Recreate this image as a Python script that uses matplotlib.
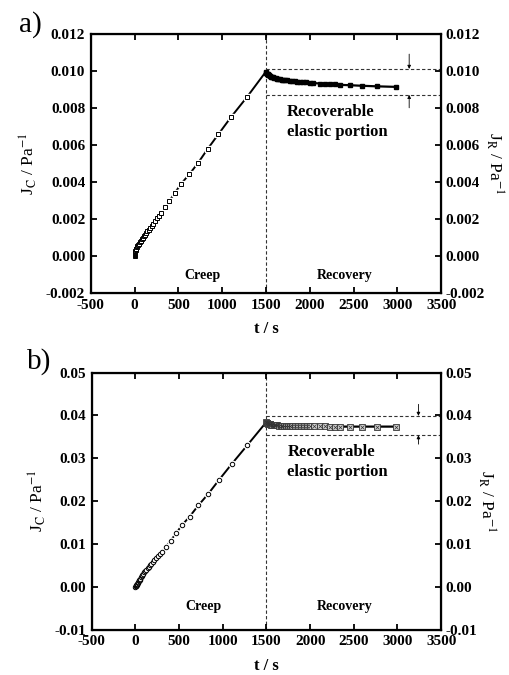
import numpy as np
import matplotlib
matplotlib.use('Agg')
import matplotlib.pyplot as plt
from matplotlib.ticker import FormatStrFormatter, MultipleLocator

plt.rcParams['font.family'] = ['Liberation Serif', 'DejaVu Serif']
plt.rcParams['mathtext.fontset'] = 'stix'
plt.rcParams['axes.unicode_minus'] = False

# panel a) creep (open squares) and recovery (filled squares)
T_CREEP_A = [0, 1, 2, 3, 4, 5, 6, 8, 10, 12, 15, 19, 24, 30, 38, 49, 60, 72, 84, 95, 106,
             117, 130, 144, 160, 178, 196, 216, 236, 258, 280, 303, 348, 398, 462, 534,
             625, 723, 833, 955, 1106, 1280]
J_CREEP_A = [0.00000, 0.00003, 0.00006, 0.00009, 0.00012, 0.00015, 0.00018, 0.00022,
             0.00026, 0.00030, 0.00035, 0.00040, 0.00046, 0.00052, 0.00059, 0.00067,
             0.00074, 0.00081, 0.00089, 0.00097, 0.00105, 0.00114, 0.00123, 0.00132,
             0.00142, 0.00153, 0.00164, 0.00175, 0.00189, 0.00204, 0.00217, 0.00231,
             0.00263, 0.00297, 0.00342, 0.00391, 0.00441, 0.00501, 0.00577, 0.00656,
             0.00753, 0.00856]
T_END = 1500
J_END_A = 0.00996

T_REC = [1500, 1505, 1510, 1518, 1526, 1535, 1545, 1556, 1568, 1581, 1595, 1610, 1626,
         1643, 1661, 1680, 1700, 1722, 1745, 1770, 1797, 1826, 1857, 1890, 1925, 1962,
         2003, 2041, 2117, 2174, 2231, 2289, 2346, 2460, 2594, 2765, 2986]
J_REC_A = [0.00996, 0.00990, 0.00985, 0.00981, 0.00978, 0.00975, 0.00972, 0.00969,
           0.00967, 0.00964, 0.00962, 0.00960, 0.00958, 0.00956, 0.00954, 0.00952,
           0.00951, 0.00949, 0.00948, 0.00946, 0.00945, 0.00943, 0.00942, 0.00940,
           0.00939, 0.00937, 0.00936, 0.00934, 0.00931, 0.00929, 0.00927, 0.00926,
           0.00924, 0.00922, 0.00919, 0.00916, 0.00913]
BAND_A = (0.0101, 0.0087)
ARROW_A = (3135, 0.0109, 0.0080)

# panel b) creep (open circles) and recovery (crossed squares)
T_CREEP_B = [0, 2, 5, 7, 10, 13, 17, 21, 25, 30, 35, 41, 47, 54, 62, 71, 80, 90, 100,
             112, 125, 138, 152, 167, 183, 200, 217, 238, 259, 280, 300, 346, 403, 464,
             532, 620, 719, 833, 958, 1103, 1278]
J_CREEP_B = [0.0000, 0.0001, 0.0002, 0.0003, 0.0004, 0.0005, 0.0006, 0.0007, 0.0009,
             0.0011, 0.0013, 0.0015, 0.0017, 0.0019, 0.0022, 0.0025, 0.0028, 0.0031,
             0.0034, 0.0037, 0.0040, 0.0043, 0.0047, 0.0050, 0.0054, 0.0058, 0.0062,
             0.0067, 0.0072, 0.0077, 0.0082, 0.0093, 0.0108, 0.0125, 0.0144, 0.0164,
             0.0190, 0.0217, 0.0250, 0.0287, 0.0330]
J_END_B = 0.0385
J_REC_B = [0.0385, 0.0383, 0.0382, 0.0381, 0.0380, 0.0379, 0.0379, 0.0378, 0.0378,
           0.0377, 0.0377, 0.0377, 0.0377, 0.0376, 0.0376, 0.0376, 0.0376, 0.0376,
           0.0376, 0.0376, 0.0376, 0.0375, 0.0375, 0.0375, 0.0375, 0.0375, 0.0375,
           0.0375, 0.0375, 0.0375, 0.0374, 0.0374, 0.0374, 0.0374, 0.0374, 0.0374,
           0.0374]
BAND_B = (0.0399, 0.0354)
ARROW_B = (3240, 0.0426, 0.0333)

XTICKS = [-500, 0, 500, 1000, 1500, 2000, 2500, 3000, 3500]


def style_axes(ax, ylim, ystep, fmt):
    ax.set_xlim(-500, 3500)
    ax.set_ylim(*ylim)
    ax.set_xticks(XTICKS)
    ax.yaxis.set_major_locator(MultipleLocator(ystep))
    ax.yaxis.set_major_formatter(FormatStrFormatter(fmt))
    ax.tick_params(direction='in', length=4, width=1.3, top=True, right=False,
                   labelsize=11, pad=4)
    for lab in ax.get_xticklabels() + ax.get_yticklabels():
        lab.set_fontweight('bold')
    for sp in ax.spines.values():
        sp.set_linewidth(1.6)
    ax.set_xlabel('t / s', fontsize=12, fontweight='bold', labelpad=7)
    ax.set_ylabel(r'J$_{\mathrm{C}}$ / Pa$^{\mathrm{-1}}$', fontsize=12.5, labelpad=5)

    twin = ax.twinx()
    twin.set_ylim(*ylim)
    twin.yaxis.set_major_locator(MultipleLocator(ystep))
    twin.yaxis.set_major_formatter(FormatStrFormatter(fmt))
    twin.tick_params(direction='in', length=4, width=1.3, labelsize=11, pad=3)
    for lab in twin.get_yticklabels():
        lab.set_fontweight('bold')
    twin.set_ylabel(r'J$_{\mathrm{R}}$ / Pa$^{\mathrm{-1}}$', fontsize=12.5,
                    rotation=-90, labelpad=15)
    return twin


def draw_panel(ax, t_c, j_c, j_end, j_r, band, arrow, creep_marker, rec_kind,
               ylim, ystep, fmt, txt_y):
    style_axes(ax, ylim, ystep, fmt)
    ms = 3.2
    # creep line continued up to the start of recovery
    ax.plot(list(t_c) + [T_END], list(j_c) + [j_end], color='black', lw=1.4, zorder=2)
    ax.plot(t_c, j_c, ls='none', marker=creep_marker, ms=ms + 1.6, mfc='white',
            mec='white', zorder=3)
    ax.plot(t_c, j_c, ls='none', marker=creep_marker, ms=ms, mfc='white',
            mec='black', mew=0.7, zorder=4)

    # recovery
    ax.plot(T_REC, j_r, color='black', lw=1.6, zorder=2)
    if rec_kind == 'filled':
        ax.plot(T_REC, j_r, ls='none', marker='s', ms=ms, mfc='black', mec='black',
                zorder=4)
    else:
        ax.plot(T_REC, j_r, ls='none', marker='s', ms=ms + 0.6, mfc='#d0d0d0',
                mec='#333333', mew=0.6, zorder=4)
        ax.plot(T_REC, j_r, ls='none', marker='x', ms=ms - 0.6, mec='#333333',
                mew=0.5, zorder=5)

    dash = dict(color='#333333', lw=0.8, ls=(0, (3, 2)), zorder=1)
    ax.axvline(T_END, **dash)
    ax.plot([T_END, 3500], [band[0], band[0]], **dash)
    ax.plot([T_END, 3500], [band[1], band[1]], **dash)

    ax_x, top_from, bot_from = arrow
    arr = dict(arrowstyle='-|>', lw=0.6, color='black', mutation_scale=5,
               shrinkA=0, shrinkB=0)
    ax.annotate('', xy=(ax_x, band[0]), xytext=(ax_x, top_from), arrowprops=arr)
    ax.annotate('', xy=(ax_x, band[1]), xytext=(ax_x, bot_from), arrowprops=arr)

    ax.text(780, txt_y, 'Creep', ha='center', va='center', fontsize=10,
            fontweight='bold')
    ax.text(2400, txt_y, 'Recovery', ha='center', va='center', fontsize=10,
            fontweight='bold')
    ax.text(1740, band[1] - (ylim[1] - ylim[0]) * 0.035,
            'Recoverable\nelastic portion', ha='left', va='top', fontsize=12,
            fontweight='bold', linespacing=1.3)


fig = plt.figure(figsize=(5.1, 6.75), dpi=100)
ax_a = fig.add_axes([0.178, 0.566, 0.687, 0.384])
ax_b = fig.add_axes([0.180, 0.067, 0.685, 0.381])

draw_panel(ax_a, T_CREEP_A, J_CREEP_A, J_END_A, J_REC_A, BAND_A, ARROW_A, 's',
           'filled', (-0.002, 0.012), 0.002, '%.3f', -0.00105)
draw_panel(ax_b, T_CREEP_B, J_CREEP_B, J_END_B, J_REC_B, BAND_B, ARROW_B, 'o',
           'crossed', (-0.01, 0.05), 0.01, '%.2f', -0.0045)

fig.text(0.038, 0.963, 'a)', fontsize=21, va='center', ha='left')
fig.text(0.052, 0.465, 'b)', fontsize=21, va='center', ha='left')

fig.savefig('out.png', dpi=100)
